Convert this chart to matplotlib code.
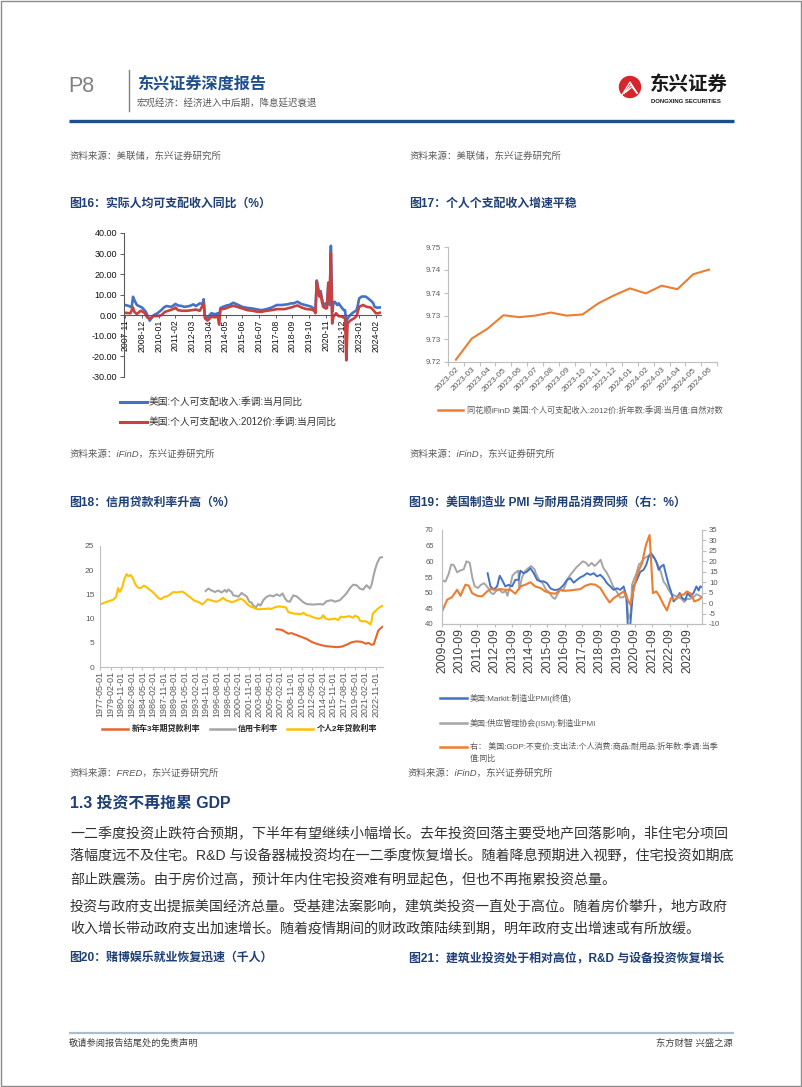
import numpy as np
import matplotlib
matplotlib.use('Agg')
from matplotlib import pyplot as plt
from matplotlib.patches import Circle, Rectangle

plt.rcParams['font.family'] = ['Liberation Sans', 'Noto Sans CJK SC', 'DejaVu Sans']
plt.rcParams['axes.unicode_minus'] = False
W, H = 802, 1087

# ---------------- 图16: 实际人均可支配收入同比 (%)
nominal_yoy = [
    ('2007-11', 5.0), ('2008-02', 4.5), ('2008-04', 3.8), ('2008-05', 9.0), ('2008-06', 7.5),
    ('2008-08', 5.0), ('2008-12', 3.8), ('2009-03', 1.7), ('2009-06', -2.6), ('2009-09', 0.0),
    ('2009-12', 1.0), ('2010-03', 2.5), ('2010-05', 3.8), ('2010-07', 4.5), ('2010-11', 4.1),
    ('2011-02', 5.5), ('2011-04', 4.8), ('2011-07', 4.5), ('2011-09', 4.1), ('2012-01', 4.5),
    ('2012-04', 5.3), ('2012-06', 4.5), ('2012-09', 5.8), ('2012-11', 5.5), ('2012-12', 7.8),
    ('2013-01', -0.7), ('2013-02', -1.5), ('2013-04', -0.4), ('2013-06', 1.0), ('2013-09', 0.5),
    ('2013-11', 1.0), ('2013-12', -2.5), ('2014-01', 3.5), ('2014-03', 4.1), ('2014-06', 4.8),
    ('2014-08', 5.0), ('2014-11', 6.1), ('2015-02', 5.3), ('2015-06', 4.1), ('2015-10', 3.6),
    ('2016-02', 3.3), ('2016-06', 2.8), ('2016-09', 2.5), ('2017-01', 3.0), ('2017-05', 3.8),
    ('2017-09', 5.0), ('2018-01', 5.0), ('2018-05', 5.3), ('2018-08', 5.8), ('2018-10', 5.8),
    ('2019-01', 6.6), ('2019-04', 5.5), ('2019-07', 5.0), ('2019-10', 4.5), ('2019-12', 4.1),
    ('2020-01', 3.5), ('2020-03', 2.5), ('2020-04', 16.9), ('2020-05', 13.6), ('2020-06', 10.7),
    ('2020-07', 11.8), ('2020-08', 8.2), ('2020-09', 5.8), ('2020-10', 4.5), ('2020-11', 5.8),
    ('2020-12', 5.0), ('2021-01', 15.3), ('2021-02', 5.0), ('2021-03', 33.8), ('2021-04', 1.5),
    ('2021-05', 5.8), ('2021-06', 6.6), ('2021-08', 5.0), ('2021-09', 5.8), ('2021-11', 4.1),
    ('2022-01', 2.5), ('2022-02', 2.5), ('2022-03', -3.6), ('2022-04', -1.5), ('2022-06', 0.1),
    ('2022-08', 1.2), ('2022-11', 2.5), ('2022-12', 5.0), ('2023-01', 8.2), ('2023-03', 9.1),
    ('2023-06', 9.1), ('2023-08', 8.2), ('2023-11', 6.6), ('2023-12', 5.8), ('2024-01', 4.1),
    ('2024-03', 3.7), ('2024-05', 3.8),
]
real_yoy = [
    ('2007-11', 1.2), ('2008-03', 1.0), ('2008-05', 3.8), ('2008-06', 1.7), ('2008-08', 0.6),
    ('2008-11', 2.2), ('2009-02', 1.2), ('2009-04', -1.0), ('2009-06', -1.5), ('2009-09', -0.4),
    ('2009-12', -0.4), ('2010-03', 0.0), ('2010-06', 1.7), ('2010-10', 2.5), ('2011-01', 3.2),
    ('2011-02', 3.8), ('2011-04', 2.5), ('2011-07', 2.2), ('2011-11', 2.2), ('2012-03', 2.5),
    ('2012-06', 2.8), ('2012-09', 2.2), ('2012-12', 5.8), ('2013-01', -1.5), ('2013-03', -2.6),
    ('2013-06', -0.7), ('2013-09', -1.0), ('2013-11', -0.5), ('2013-12', -4.5), ('2014-01', 2.8),
    ('2014-05', 3.3), ('2014-08', 4.1), ('2014-11', 4.6), ('2015-02', 4.1), ('2015-06', 3.3),
    ('2015-10', 2.5), ('2016-02', 2.2), ('2016-06', 1.7), ('2016-09', 1.7), ('2017-01', 2.2),
    ('2017-05', 2.5), ('2017-09', 3.0), ('2018-03', 3.0), ('2018-08', 3.8), ('2019-01', 4.8),
    ('2019-04', 3.8), ('2019-08', 3.0), ('2019-12', 2.8), ('2020-02', 2.2), ('2020-03', 1.0),
    ('2020-04', 16.4), ('2020-05', 12.3), ('2020-06', 9.1), ('2020-07', 10.7), ('2020-08', 6.6),
    ('2020-09', 4.1), ('2020-11', 3.3), ('2020-12', 3.5), ('2021-01', 15.9), ('2021-02', 7.4),
    ('2021-03', 30.2), ('2021-04', -4.0), ('2021-05', -0.7), ('2021-07', 1.0), ('2021-09', -0.4),
    ('2021-12', -0.7), ('2022-02', -1.5), ('2022-03', -21.9), ('2022-04', -4.0), ('2022-06', -2.6),
    ('2022-09', -1.5), ('2022-11', -0.4), ('2023-01', 4.1), ('2023-04', 5.0), ('2023-07', 4.1),
    ('2023-10', 3.8), ('2023-12', 2.5), ('2024-02', 1.0), ('2024-04', 1.0), ('2024-05', 1.2),
]
fig16_ticks = ['2007-11', '2008-12', '2010-01', '2011-02', '2012-03', '2013-04', '2014-05', '2015-06',
               '2016-07', '2017-08', '2018-09', '2019-10', '2020-11', '2021-12', '2023-01', '2024-02']

# ---------------- 图17: 个人可支配收入 (自然对数)
fig17_months = ['2023-02', '2023-03', '2023-04', '2023-05', '2023-06', '2023-07', '2023-08', '2023-09',
                '2023-10', '2023-11', '2023-12', '2024-01', '2024-02', '2024-03', '2024-04', '2024-05',
                '2024-06']
fig17_log = [9.7206, 9.7261, 9.7287, 9.7322, 9.7317, 9.7321, 9.7329, 9.7321, 9.7324, 9.7353,
             9.7374, 9.7392, 9.7379, 9.7399, 9.7390, 9.7429, 9.7441]

# ---------------- 图18: 信用贷款利率 (%), 年份小数
car_rate = [
    (2006.45, 7.8), (2007.27, 7.7), (2007.82, 7.3), (2008.37, 6.9), (2008.92, 7.0), (2009.75, 6.6),
    (2010.57, 6.2), (2011.40, 5.8), (2012.22, 5.2), (2013.05, 4.8), (2013.87, 4.5), (2014.69, 4.3),
    (2015.51, 4.2), (2016.34, 4.1), (2017.16, 4.2), (2017.99, 4.6), (2018.81, 5.1), (2019.64, 5.3),
    (2020.46, 5.2), (2021.18, 4.8), (2021.56, 5.0), (2022.11, 4.6), (2022.49, 4.7), (2022.82, 6.0),
    (2023.21, 7.5), (2023.59, 8.0), (2023.92, 8.3),
]
card_rate = [
    (1994.75, 15.7), (1995.19, 16.2), (1995.74, 15.8), (1996.29, 15.5), (1996.84, 15.8), (1997.38, 15.4),
    (1997.93, 15.9), (1998.21, 15.5), (1998.48, 16.0), (1999.03, 15.5), (1999.31, 14.8), (1999.86, 14.7),
    (2000.13, 14.5), (2000.68, 15.3), (2001.23, 14.8), (2001.51, 14.6), (2001.95, 13.5), (2002.33, 13.3),
    (2002.60, 12.7), (2003.04, 12.3), (2003.43, 13.0), (2003.81, 12.7), (2004.25, 13.8), (2004.80, 14.5),
    (2005.35, 14.8), (2005.90, 14.6), (2006.45, 15.0), (2007.00, 14.7), (2007.44, 15.2), (2007.82, 14.2),
    (2008.21, 13.6), (2008.65, 13.5), (2009.20, 14.8), (2009.75, 14.6), (2010.30, 14.0), (2010.85, 13.4),
    (2011.40, 13.0), (2012.50, 12.9), (2013.60, 13.0), (2014.14, 12.9), (2014.69, 13.6), (2015.51, 13.8),
    (2016.07, 13.5), (2016.89, 13.8), (2017.44, 14.5), (2017.99, 15.2), (2018.54, 16.3), (2019.09, 17.0),
    (2019.64, 16.9), (2020.19, 16.2), (2020.74, 16.0), (2021.29, 16.9), (2021.84, 16.2), (2022.11, 17.0),
    (2022.66, 20.0), (2023.05, 21.5), (2023.49, 22.6), (2023.92, 22.7),
]
personal_rate = [
    (1977.33, 12.9), (1978.5, 13.5), (1979.5, 13.9), (1980.0, 14.5), (1980.3, 16.3), (1980.6, 15.5),
    (1981.0, 16.5), (1981.3, 18.0), (1981.7, 19.2), (1982.0, 18.8), (1982.4, 19.0), (1982.8, 18.2),
    (1983.2, 17.0), (1983.6, 16.4), (1984.0, 16.3), (1984.6, 16.8), (1985.0, 16.5), (1985.5, 16.0),
    (1986.0, 15.5), (1986.4, 15.0), (1987.0, 14.2), (1987.4, 14.0), (1987.9, 14.5), (1988.4, 14.6),
    (1988.9, 15.0), (1989.4, 15.5), (1989.9, 15.4), (1990.4, 15.5), (1990.9, 15.6), (1991.4, 15.2),
    (1991.9, 14.7), (1992.4, 14.2), (1992.9, 13.7), (1993.4, 13.5), (1993.9, 13.2), (1994.2, 12.9),
    (1994.6, 13.4), (1995.1, 14.0), (1995.6, 13.8), (1996.1, 13.6), (1996.6, 13.5), (1997.1, 13.8),
    (1997.6, 14.3), (1998.1, 13.8), (1998.6, 13.6), (1999.1, 13.4), (1999.6, 13.6), (2000.1, 13.9),
    (2000.6, 14.1), (2001.1, 13.7), (2001.6, 13.0), (2002.1, 12.5), (2002.6, 12.3), (2003.1, 12.0),
    (2003.6, 11.9), (2004.1, 12.0), (2004.6, 12.0), (2005.1, 12.1), (2005.6, 12.0), (2006.1, 12.3),
    (2006.6, 12.5), (2007.1, 12.5), (2007.6, 12.4), (2008.0, 12.3), (2008.4, 11.3), (2008.9, 11.2),
    (2009.4, 11.0), (2009.9, 11.0), (2010.4, 10.9), (2010.9, 11.2), (2011.4, 10.7), (2011.9, 10.6),
    (2012.4, 10.3), (2012.9, 10.1), (2013.4, 10.0), (2013.9, 10.2), (2014.1, 10.7), (2014.6, 10.0),
    (2015.1, 9.8), (2015.6, 9.9), (2016.1, 10.0), (2016.6, 9.7), (2017.0, 10.4), (2017.5, 10.3),
    (2018.0, 10.4), (2018.5, 10.5), (2019.0, 10.2), (2019.4, 10.6), (2019.9, 10.3), (2020.2, 9.6),
    (2020.6, 9.4), (2021.0, 9.5), (2021.5, 9.2), (2021.9, 8.8), (2022.1, 9.4), (2022.3, 11.0),
    (2022.7, 11.5), (2023.1, 12.0), (2023.5, 12.4), (2023.9, 12.6),
]
fig18_ticks = ['1977-05-01', '1979-02-01', '1980-11-01', '1982-08-01', '1984-05-01', '1986-02-01',
               '1987-11-01', '1989-08-01', '1991-05-01', '1993-02-01', '1994-11-01', '1996-08-01',
               '1998-05-01', '2000-02-01', '2001-11-01', '2003-08-01', '2005-05-01', '2007-02-01',
               '2008-11-01', '2010-08-01', '2012-05-01', '2014-02-01', '2015-11-01', '2017-08-01',
               '2019-05-01', '2021-02-01', '2022-11-01']

# ---------------- 图19: PMI 与耐用品消费同比, 年份小数
markit_pmi = [
    (2012.27, 56.2), (2012.43, 52.0), (2012.62, 51.0), (2012.81, 52.0), (2012.96, 55.4), (2013.09, 54.1),
    (2013.28, 52.0), (2013.47, 52.5), (2013.66, 52.0), (2013.85, 54.1), (2014.04, 54.1), (2014.14, 57.0),
    (2014.33, 56.2), (2014.52, 56.7), (2014.71, 57.8), (2014.90, 56.2), (2015.09, 54.1), (2015.28, 53.6),
    (2015.47, 53.6), (2015.66, 53.0), (2015.85, 51.4), (2016.04, 50.9), (2016.23, 50.9), (2016.42, 51.4),
    (2016.61, 52.5), (2016.80, 54.1), (2016.99, 54.6), (2017.18, 53.2), (2017.37, 54.1), (2017.56, 54.9),
    (2017.75, 55.4), (2017.94, 56.2), (2018.13, 55.7), (2018.32, 56.2), (2018.51, 55.2), (2018.70, 55.7),
    (2018.89, 54.6), (2019.08, 53.0), (2019.27, 52.0), (2019.46, 50.9), (2019.65, 51.4), (2019.84, 50.9),
    (2020.03, 52.0), (2020.18, 48.8), (2020.30, 36.1), (2020.41, 39.8), (2020.51, 46.7), (2020.60, 52.0),
    (2020.79, 54.1), (2020.98, 56.7), (2021.17, 57.3), (2021.32, 58.9), (2021.46, 61.5), (2021.59, 62.6),
    (2021.74, 61.5), (2021.89, 59.9), (2022.03, 57.3), (2022.16, 58.3), (2022.31, 58.9), (2022.45, 55.7),
    (2022.60, 52.5), (2022.73, 50.4), (2022.88, 47.2), (2023.03, 48.0), (2023.23, 49.9), (2023.36, 48.3),
    (2023.55, 47.7), (2023.68, 49.9), (2023.83, 48.8), (2024.02, 49.9), (2024.18, 52.0), (2024.31, 50.7),
    (2024.40, 52.0), (2024.50, 51.8),
]
ism_pmi = [
    (2009.67, 54.0), (2009.86, 53.5), (2010.05, 56.0), (2010.19, 59.0), (2010.34, 58.8), (2010.53, 56.5),
    (2010.68, 57.0), (2010.91, 57.5), (2011.06, 60.0), (2011.25, 59.5), (2011.39, 55.0), (2011.53, 52.0),
    (2011.72, 51.5), (2011.88, 52.5), (2012.07, 53.0), (2012.30, 51.5), (2012.45, 50.0), (2012.60, 49.5),
    (2012.74, 50.5), (2012.93, 51.0), (2013.12, 50.0), (2013.31, 50.5), (2013.40, 49.0), (2013.55, 52.0),
    (2013.69, 55.5), (2013.88, 56.5), (2014.02, 57.0), (2014.08, 51.0), (2014.21, 54.5), (2014.36, 56.5),
    (2014.52, 57.5), (2014.75, 58.5), (2014.94, 57.5), (2015.03, 56.0), (2015.22, 54.0), (2015.41, 53.0),
    (2015.60, 51.0), (2015.79, 50.0), (2015.98, 48.5), (2016.11, 48.0), (2016.26, 49.5), (2016.42, 51.0),
    (2016.56, 50.5), (2016.71, 52.5), (2016.84, 54.5), (2017.03, 56.0), (2017.18, 57.0), (2017.32, 58.0),
    (2017.51, 59.0), (2017.70, 60.0), (2017.89, 59.5), (2018.02, 58.5), (2018.21, 59.5), (2018.37, 58.5),
    (2018.56, 59.5), (2018.72, 60.5), (2018.86, 58.0), (2019.05, 56.5), (2019.24, 54.5), (2019.43, 52.0),
    (2019.62, 50.5), (2019.81, 48.5), (2020.00, 48.5), (2020.19, 49.5), (2020.30, 41.5), (2020.43, 43.5),
    (2020.51, 52.5), (2020.60, 54.0), (2020.75, 56.0), (2020.90, 59.0), (2021.02, 59.5), (2021.21, 61.0),
    (2021.36, 61.5), (2021.50, 62.0), (2021.63, 61.5), (2021.78, 61.0), (2021.97, 59.0), (2022.16, 56.5),
    (2022.31, 53.5), (2022.45, 52.5), (2022.58, 51.0), (2022.77, 49.5), (2022.96, 49.0), (2023.15, 48.5),
    (2023.34, 48.0), (2023.49, 47.0), (2023.62, 48.0), (2023.81, 48.0), (2024.00, 48.5), (2024.19, 49.5),
    (2024.38, 49.0), (2024.50, 48.5),
]
durable_yoy = [
    (2009.67, -4.0), (2009.96, 1.6), (2010.24, 2.9), (2010.53, 6.4), (2010.72, 3.5), (2011.00, 8.8),
    (2011.19, 8.4), (2011.38, 4.8), (2011.67, 3.5), (2011.95, 3.2), (2012.24, 5.6), (2012.43, 6.7),
    (2012.71, 6.4), (2013.00, 6.7), (2013.28, 6.4), (2013.57, 6.4), (2013.85, 4.5), (2014.14, 8.0),
    (2014.42, 8.8), (2014.71, 10.0), (2014.99, 8.0), (2015.28, 7.2), (2015.56, 5.6), (2015.85, 4.8),
    (2016.13, 4.5), (2016.42, 6.4), (2016.70, 5.9), (2016.99, 6.1), (2017.27, 6.4), (2017.56, 6.7),
    (2017.84, 8.3), (2018.13, 9.1), (2018.42, 8.8), (2018.70, 7.2), (2018.99, 3.2), (2019.23, 0.3),
    (2019.46, 2.4), (2019.75, 4.0), (2020.03, 5.6), (2020.22, 2.4), (2020.41, -0.8), (2020.60, 6.4),
    (2020.83, 14.6), (2021.07, 18.8), (2021.30, 27.8), (2021.51, 32.6), (2021.70, 4.8), (2021.89, 5.6),
    (2022.08, 3.2), (2022.31, -0.8), (2022.50, -3.5), (2022.73, 2.4), (2022.98, 1.6), (2023.23, 4.0),
    (2023.45, 4.0), (2023.64, 5.6), (2023.87, 4.5), (2024.06, 0.8), (2024.31, 1.6), (2024.50, 2.9),
]
fig19_ticks = ['2009-09', '2010-09', '2011-09', '2012-09', '2013-09', '2014-09', '2015-09', '2016-09',
               '2017-09', '2018-09', '2019-09', '2020-09', '2021-09', '2022-09', '2023-09']

para1 = ['一二季度投资止跌符合预期，下半年有望继续小幅增长。去年投资回落主要受地产回落影响，非住宅分项回',
         '落幅度远不及住宅。R&D 与设备器械投资均在一二季度恢复增长。随着降息预期进入视野，住宅投资如期底',
         '部止跌震荡。由于房价过高，预计年内住宅投资难有明显起色，但也不再拖累投资总量。']
para2 = ['投资与政府支出提振美国经济总量。受基建法案影响，建筑类投资一直处于高位。随着房价攀升，地方政府',
         '收入增长带动政府支出加速增长。随着疫情期间的财政政策陆续到期，明年政府支出增速或有所放缓。']


def months_since(s, base='2007-11'):
    y, m = map(int, s.split('-')[:2])
    by, bm = map(int, base.split('-'))
    return (y - by) * 12 + (m - bm)


def year_frac(s):
    y, m = map(int, s.split('-')[:2])
    return y + (m - 1) / 12


def box(x0, y0, x1, y1):
    return [x0 / W, 1 - y1 / H, (x1 - x0) / W, (y1 - y0) / H]


fig = plt.figure(figsize=(W / 100, H / 100), dpi=100)
pg = fig.add_axes([0, 0, 1, 1])
pg.set_xlim(0, W)
pg.set_ylim(H, 0)
pg.axis('off')

NAVY = '#1f4e8c'
TITLE = '#1f3f77'
GREY_TXT = '#595959'

# page frame and header
pg.add_patch(Rectangle((0.5, 0.5), W - 2, H - 1.5, fill=False, ec='#8c8c8c', lw=1))
pg.text(68, 87, 'P8', fontsize=15.5, color='#808080', va='center')
pg.plot([129, 129], [70, 111], color='#808080', lw=1)
pg.text(137, 83, '东兴证券深度报告', fontsize=11.6, fontweight='bold', color=NAVY, va='center')
pg.text(137, 103, '宏观经济：经济进入中后期，降息延迟衰退', fontsize=6.8, color=GREY_TXT, va='center')
pg.add_patch(Circle((630, 87), 10.5, color='#d7262b'))
for k in range(3):
    pg.plot([622 + 2 * k, 630 + k, 637], [95 - k * 1.5, 82 + k * 2.5, 93], color='white', lw=0.9)
pg.text(650, 85, '东兴证券', fontsize=14, fontweight='bold', color='#1a1a1a', va='center')
pg.text(651, 101.5, 'DONGXING SECURITIES', fontsize=4.3, fontweight='bold', color='#1a1a1a', va='center')
pg.plot([69, 734], [121, 121], color=NAVY, lw=2.4, solid_capstyle='butt')

src_kw = dict(fontsize=6.8, color=GREY_TXT, va='center', style='italic')
pg.text(69, 156, '资料来源：美联储，东兴证券研究所', **src_kw)
pg.text(409, 156, '资料来源：美联储，东兴证券研究所', **src_kw)

ttl_kw = dict(fontsize=8.6, fontweight='bold', color=TITLE, va='center')
pg.text(69, 204, '图16：实际人均可支配收入同比（%）', **ttl_kw)
pg.text(409, 204, '图17：个人个支配收入增速平稳', **ttl_kw)
pg.text(69, 503, '图18：信用贷款利率升高（%）', **ttl_kw)
pg.text(409, 503, '图19：美国制造业 PMI 与耐用品消费同频（右：%）', **ttl_kw)

# ---------------- chart 16
C_BLUE, C_RED = '#4472c4', '#c8413e'
ax = fig.add_axes(box(124, 233, 381, 377))
ax.spines['bottom'].set_position(('data', 0))
ax.plot([months_since(d) for d, _ in nominal_yoy], [v for _, v in nominal_yoy], color=C_BLUE, lw=1.9)
ax.plot([months_since(d) for d, _ in real_yoy], [v for _, v in real_yoy], color=C_RED, lw=1.9)
ax.set_xlim(-1, 199)
ax.set_ylim(-30, 40)
ax.set_yticks(np.arange(-30, 41, 10))
ax.set_yticklabels([f'{v:.2f}' for v in np.arange(-30, 41, 10)])
ax.set_xticks([months_since(t) for t in fig16_ticks])
ax.set_xticklabels(fig16_ticks)
for s in ['top', 'right']:
    ax.spines[s].set_visible(False)
for s in ['left', 'bottom']:
    ax.spines[s].set_color('#595959')
    ax.spines[s].set_linewidth(0.8)
ax.tick_params(axis='y', length=3, width=0.7, color='#595959', labelsize=6.5, labelcolor='#111111', pad=2)
ax.tick_params(axis='x', length=2, width=0.7, color='#595959', labelsize=6.3, labelcolor='#111111',
               pad=1, labelrotation=90)
ax.patch.set_alpha(0)

leg_kw = dict(fontsize=7, color='#333333', va='center')
pg.plot([120, 147], [402, 402], color=C_BLUE, lw=2.2)
pg.text(149, 402, '美国:个人可支配收入:季调:当月同比', **leg_kw)
pg.plot([120, 147], [422, 422], color=C_RED, lw=2.2)
pg.text(149, 422, '美国:个人可支配收入:2012价:季调:当月同比', **leg_kw)

# ---------------- chart 17
C_ORANGE = '#ed7d31'
ax = fig.add_axes(box(448, 247, 717, 362))
xs = np.arange(len(fig17_months))
ax.plot(xs, fig17_log, color=C_ORANGE, lw=1.5)
ax.set_xlim(-0.5, len(fig17_months) - 0.5)
ax.set_ylim(9.72, 9.75)
yt = np.linspace(9.72, 9.75, 6)
ax.set_yticks(yt)
ax.set_yticklabels([f'{v:.2f}' for v in yt])
ax.set_xticks(np.arange(-0.5, len(fig17_months)), labels=[])
ax.set_xticks(xs, minor=True)
ax.set_xticklabels(fig17_months, minor=True, rotation=45, ha='right', rotation_mode='anchor')
for s in ['top', 'right']:
    ax.spines[s].set_visible(False)
for s in ['left', 'bottom']:
    ax.spines[s].set_color('#bfbfbf')
ax.tick_params(axis='y', length=3, color='#bfbfbf', labelsize=5.6, labelcolor=GREY_TXT, pad=2)
ax.tick_params(axis='x', which='major', length=3, color='#bfbfbf')
ax.tick_params(axis='x', which='minor', length=0, labelsize=6, labelcolor=GREY_TXT, pad=3)
ax.patch.set_alpha(0)
pg.plot([438, 463], [410, 410], color=C_ORANGE, lw=1.8)
pg.text(467, 410, '同花顺iFinD 美国:个人可支配收入:2012价:折年数:季调:当月值:自然对数',
        fontsize=5.9, color=GREY_TXT, va='center')

pg.text(69, 454, '资料来源：iFinD，东兴证券研究所', **src_kw)
pg.text(409, 454, '资料来源：iFinD，东兴证券研究所', **src_kw)

# ---------------- chart 18
C_CAR, C_CARD, C_PERS = '#e8652a', '#a5a5a5', '#ffc000'
ax = fig.add_axes(box(100, 546, 383, 667))
ax.plot([t for t, _ in car_rate], [v for _, v in car_rate], color=C_CAR, lw=1.5)
ax.plot([t for t, _ in card_rate], [v for _, v in card_rate], color=C_CARD, lw=1.5)
ax.plot([t for t, _ in personal_rate], [v for _, v in personal_rate], color=C_PERS, lw=1.5)
ax.set_xlim(year_frac(fig18_ticks[0]), 2024.0)
ax.set_ylim(0, 25)
ax.set_yticks(np.arange(0, 26, 5))
ax.set_xticks([year_frac(t) for t in fig18_ticks])
ax.set_xticklabels(fig18_ticks, rotation=90)
for s in ['top', 'right']:
    ax.spines[s].set_visible(False)
for s in ['left', 'bottom']:
    ax.spines[s].set_color('#bfbfbf')
ax.tick_params(axis='y', length=0, labelsize=6, labelcolor=GREY_TXT, pad=4)
ax.tick_params(axis='x', length=2, color='#bfbfbf', labelsize=6.5, labelcolor=GREY_TXT, pad=1)
ax.patch.set_alpha(0)
leg18 = dict(fontsize=5.8, fontweight='bold', color='#262626', va='center')
pg.plot([102, 128], [729, 729], color=C_CAR, lw=1.8)
pg.text(132, 729, '新车3年期贷款利率', **leg18)
pg.plot([210, 235], [729, 729], color=C_CARD, lw=1.8)
pg.text(238, 729, '信用卡利率', **leg18)
pg.plot([287, 313], [729, 729], color=C_PERS, lw=1.8)
pg.text(317, 729, '个人2年贷款利率', **leg18)

# ---------------- chart 19
C_MARKIT, C_ISM = '#4472c4', '#a5a5a5'
ax = fig.add_axes(box(442, 530, 702, 624))
ax.plot([t for t, _ in ism_pmi], [v for _, v in ism_pmi], color=C_ISM, lw=1.4)
ax.plot([t for t, _ in markit_pmi], [v for _, v in markit_pmi], color=C_MARKIT, lw=1.4)
ax.set_xlim(year_frac(fig19_ticks[0]), 2024.5)
ax.set_ylim(40, 70)
ax.set_yticks(np.arange(40, 71, 5))
ax.set_xticks([year_frac(t) for t in fig19_ticks])
ax.set_xticklabels(fig19_ticks, rotation=90)
axr = ax.twinx()
axr.plot([t for t, _ in durable_yoy], [v for _, v in durable_yoy], color=C_ORANGE, lw=1.5)
axr.set_ylim(-10, 35)
axr.set_yticks(np.arange(-10, 36, 5))
for a in (ax, axr):
    a.spines['top'].set_visible(False)
    for s in ['left', 'right', 'bottom']:
        a.spines[s].set_color('#bfbfbf')
    a.patch.set_alpha(0)
ax.tick_params(axis='y', length=0, labelsize=5.6, labelcolor=GREY_TXT, pad=6)
axr.tick_params(axis='y', length=3, color='#bfbfbf', labelsize=5.6, labelcolor=GREY_TXT, pad=2)
ax.tick_params(axis='x', length=2, color='#bfbfbf', labelsize=8.8, labelcolor='#404040', pad=1)
leg19 = dict(fontsize=5.8, color=GREY_TXT, va='center')
pg.plot([440, 467], [698, 698], color=C_MARKIT, lw=1.8)
pg.text(470, 698, '美国:Markit:制造业PMI(终值)', **leg19)
pg.plot([440, 467], [723, 723], color=C_ISM, lw=1.8)
pg.text(470, 723, '美国:供应管理协会(ISM):制造业PMI', **leg19)
pg.plot([440, 467], [747, 747], color=C_ORANGE, lw=1.8)
pg.text(470, 747, '右： 美国:GDP:不变价:支出法:个人消费:商品:耐用品:折年数:季调:当季', **leg19)
pg.text(470, 759, '值:同比', **leg19)

pg.text(69, 773, '资料来源：FRED，东兴证券研究所', **src_kw)
pg.text(408, 773, '资料来源：iFinD，东兴证券研究所', **src_kw)

# ---------------- text section
pg.text(70, 803, '1.3 投资不再拖累 GDP', fontsize=11.4, fontweight='bold', color=TITLE, va='center')
body = dict(fontsize=10.1, color='#333333', va='center')
for i, line in enumerate(para1):
    pg.text(70, 833 + 23.5 * i, line, **body)
for i, line in enumerate(para2):
    pg.text(70, 906 + 23.5 * i, line, **body)
pg.text(69, 958, '图20：赌博娱乐就业恢复迅速（千人）', **ttl_kw)
pg.text(409, 958, '图21：建筑业投资处于相对高位，R&D 与设备投资恢复增长', **ttl_kw)

# footer
pg.plot([69, 734], [1033, 1033], color='#a9bcd0', lw=1.6, solid_capstyle='butt')
pg.text(69, 1043, '敬请参阅报告结尾处的免责声明', fontsize=6.7, color='#404040', va='center')
pg.text(733, 1043, '东方财智 兴盛之源', fontsize=6.7, color='#404040', va='center', ha='right')

fig.savefig('out.png', dpi=100)
